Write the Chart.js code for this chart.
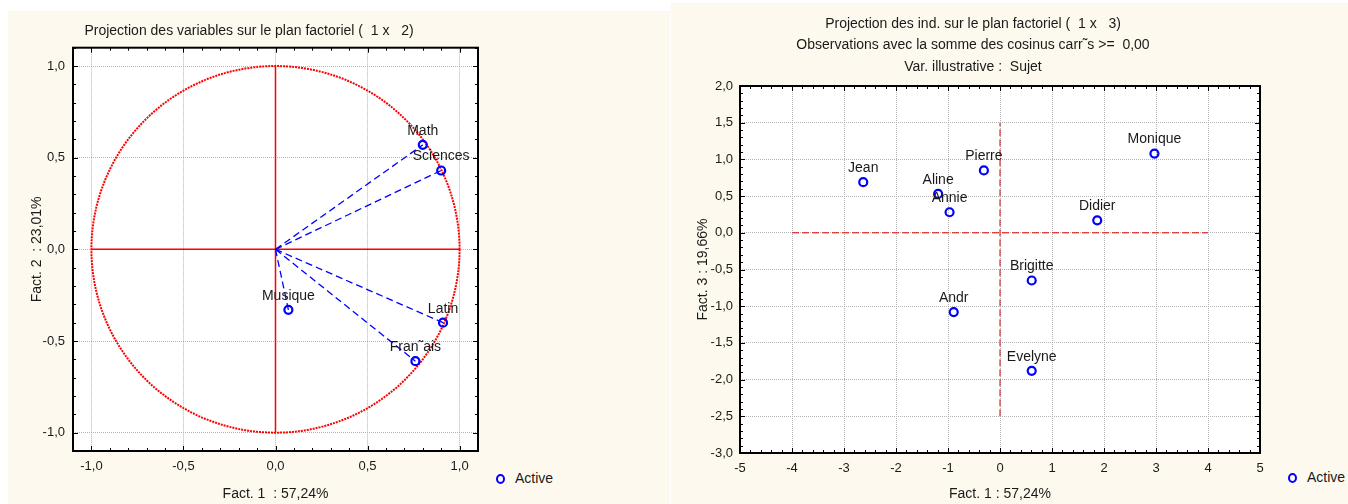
<!DOCTYPE html>
<html>
<head>
<meta charset="utf-8">
<script src="https://cdn.jsdelivr.net/npm/chart.js@4.4.1/dist/chart.umd.min.js"></script>
<style>
    body { margin: 0; width: 1348px; height: 504px; background: #fff; position: relative; overflow: hidden;
           font-family: "Liberation Sans", Arial, sans-serif; }
    .panel { position: absolute; background: #fdf9ee; }
    #p1 { left: 8px; top: 11px; width: 662px; height: 493px; }
    #p2 { left: 671px; top: 3px; width: 677px; height: 501px; }
    canvas { position: absolute; }
    #c1 { left: 8px; top: 11px; }
    #c2 { left: 670px; top: 3px; }
    .legend { position: absolute; font-size: 14px; color: #1a1a1a; line-height: 16px; }
    .legend i { position: absolute; left: 0; top: 4px; width: 5px; height: 6px; border: 2px solid #0000ff; border-radius: 50%; }
    .legend span { position: absolute; left: 19px; top: 0; white-space: nowrap; }
</style>
</head>
<body>
<div class="panel" id="p1"></div>
<div class="panel" id="p2"></div>
<canvas id="c1" width="482" height="493"></canvas>
<canvas id="c2" width="606" height="501"></canvas>
<div class="legend" style="left:496px;top:470px"><i></i><span>Active</span></div>
<div class="legend" style="left:1288px;top:469px"><i></i><span>Active</span></div>
<script>
// --- variables plot (Fact. 1 x Fact. 2)
const varNames = ["Math", "Sciences", "Musique", "Latin", "Fran˜ais"];
const varF1 = [0.80, 0.90, 0.07, 0.91, 0.76];
const varF2 = [0.57, 0.43, -0.33, -0.40, -0.61];
const varTicks = [-1.0, -0.5, 0.0, 0.5, 1.0];
const varRange = [-1.1, 1.1];
const circleRadius = 1;

// --- individuals plot (Fact. 1 x Fact. 3)
const indNames = ["Jean", "Aline", "Annie", "Pierre", "Andr", "Brigitte", "Didier", "Monique", "Evelyne"];
const indF1 = [-2.63, -1.19, -0.97, -0.31, -0.89, 0.61, 1.87, 2.97, 0.61];
const indF3 = [0.69, 0.53, 0.28, 0.85, -1.08, -0.65, 0.17, 1.08, -1.88];
const indXTicks = [-5, -4, -3, -2, -1, 0, 1, 2, 3, 4, 5];
const indYTicks = [-3.0, -2.5, -2.0, -1.5, -1.0, -0.5, 0.0, 0.5, 1.0, 1.5, 2.0];
const crossX = [-4, 4];
const crossY = [-2.5, 1.5];

Chart.defaults.font.family = '"Liberation Sans", Arial, sans-serif';
Chart.defaults.font.size = 14;
Chart.defaults.color = "#1a1a1a";

const comma = v => v.toFixed(1).replace(".", ",");

// white plot area, frame and inward ticks (major + minor)
const framePlugin = {
    id: "frame",
    beforeDraw(chart) {
        const a = chart.chartArea;
        chart.ctx.save();
        chart.ctx.fillStyle = "#fff";
        chart.ctx.fillRect(a.left, a.top, a.width, a.height);
        chart.ctx.restore();
    },
    afterDraw(chart, args, opts) {
        const { ctx, chartArea: a, scales: { x, y } } = chart;
        ctx.save();
        ctx.strokeStyle = "#000";
        ctx.lineWidth = 1;
        const seg = (x1, y1, x2, y2) => { ctx.beginPath(); ctx.moveTo(x1, y1); ctx.lineTo(x2, y2); ctx.stroke(); };
        const isMajor = (v, m) => Math.abs(v / m - Math.round(v / m)) < 1e-6;
        for (let k = Math.ceil(x.min / opts.xMinor - 1e-6); k * opts.xMinor <= x.max + 1e-6; k++) {
            const v = k * opts.xMinor, px = Math.round(x.getPixelForValue(v)) + 0.5;
            const len = isMajor(v, opts.xMajor) ? 5 : 3;
            seg(px, a.bottom, px, a.bottom - len);
            seg(px, a.top, px, a.top + len);
        }
        for (let k = Math.ceil(y.min / opts.yMinor - 1e-6); k * opts.yMinor <= y.max + 1e-6; k++) {
            const v = k * opts.yMinor, py = Math.round(y.getPixelForValue(v)) + 0.5;
            const len = isMajor(v, opts.yMajor) ? 5 : 3;
            seg(a.left, py, a.left + len, py);
            seg(a.right, py, a.right - len, py);
        }
        ctx.lineWidth = 2;
        ctx.strokeRect(a.left, a.top, a.width, a.height);
        ctx.restore();
    }
};

// names above the points
const labelPlugin = {
    id: "pointNames",
    afterDatasetsDraw(chart, args, opts) {
        const ctx = chart.ctx;
        const meta = chart.getDatasetMeta(0);
        ctx.save();
        ctx.font = '14px "Liberation Sans", Arial, sans-serif';
        ctx.fillStyle = "#1a1a1a";
        ctx.textAlign = "center";
        ctx.textBaseline = "middle";
        meta.data.forEach((pt, i) => ctx.fillText(opts.names[i], pt.x, pt.y - 14));
        ctx.restore();
    }
};

// correlation circle drawn through the scales
const circlePlugin = {
    id: "circle",
    beforeDatasetsDraw(chart) {
        const { ctx, scales: { x, y } } = chart;
        const cx = x.getPixelForValue(0), cy = y.getPixelForValue(0);
        const rx = x.getPixelForValue(circleRadius) - cx, ry = cy - y.getPixelForValue(circleRadius);
        ctx.save();
        ctx.strokeStyle = "#ff0000";
        ctx.lineWidth = 2;
        ctx.setLineDash([2, 1]);
        ctx.beginPath();
        ctx.ellipse(cx, cy, rx, ry, 0, 0, Math.PI * 2);
        ctx.stroke();
        ctx.restore();
    }
};

function axisOpts(min, max, ticks, fmt, pad, title, titlePad, size) {
    return {
        type: "linear", min: min, max: max,
        afterBuildTicks: s => { s.ticks = ticks.map(v => ({ value: v })); },
        afterFit: s => { if (s.isHorizontal()) s.height = size; else s.width = size; },
        ticks: { callback: fmt, padding: pad, maxRotation: 0, autoSkip: false, color: "#1a1a1a", font: { size: 13 } },
        grid: { color: "#b4b4b4", lineWidth: 1, drawTicks: false },
        border: { display: false, dash: [1, 1] },
        title: { display: true, text: title, color: "#1a1a1a", padding: titlePad, font: { size: 14 } }
    };
}

const varPoints = varF1.map((v, i) => ({ x: v, y: varF2[i] }));
// one dashed ray from the origin to each variable
const varRays = varPoints.map(p => ({
    type: "line", data: [{ x: 0, y: 0 }, p], borderColor: "#0000ff", borderWidth: 1.3,
    borderDash: [7, 4], pointRadius: 0, order: 1
}));

new Chart(document.getElementById("c1"), {
    type: "scatter",
    data: {
        datasets: [
            { data: varPoints, pointRadius: 4, pointBorderWidth: 2.2, borderColor: "#0000ff",
              backgroundColor: "rgba(0,0,0,0)", order: 0 },
            ...varRays,
            { type: "line", data: [{ x: -circleRadius, y: 0 }, { x: circleRadius, y: 0 }],
              borderColor: "#ff0000", borderWidth: 1.5, pointRadius: 0, order: 2 },
            { type: "line", data: [{ x: 0, y: -circleRadius }, { x: 0, y: circleRadius }],
              borderColor: "#ff0000", borderWidth: 1.5, pointRadius: 0, order: 2 }
        ]
    },
    options: {
        responsive: false, animation: false,
        layout: { padding: { left: 12, right: 12, top: 0, bottom: 0 } },
        plugins: {
            legend: { display: false }, tooltip: { enabled: false },
            title: { display: true, text: "Projection des variables sur le plan factoriel (  1 x   2)",
                     color: "#1a1a1a", font: { size: 14, weight: "normal" }, padding: { top: 11.5, bottom: 8.4 } },
            frame: { xMinor: 0.1, xMajor: 0.5, yMinor: 0.1, yMajor: 0.5 },
            pointNames: { names: varNames }
        },
        scales: {
            x: axisOpts(varRange[0], varRange[1], varTicks, v => comma(v), 8,
                        "Fact. 1  : 57,24%", { bottom: 1 }, 53),
            y: axisOpts(varRange[0], varRange[1], varTicks, v => comma(v), 8,
                        "Fact. 2  : 23,01%", { top: 8.5 }, 53)
        }
    },
    plugins: [framePlugin, labelPlugin, circlePlugin]
});

const indPoints = indF1.map((v, i) => ({ x: v, y: indF3[i] }));

new Chart(document.getElementById("c2"), {
    type: "scatter",
    data: {
        datasets: [
            { data: indPoints, pointRadius: 4, pointBorderWidth: 2.2, borderColor: "#0000ff",
              backgroundColor: "rgba(0,0,0,0)", order: 0 },
            { type: "line", data: crossX.map(v => ({ x: v, y: 0 })), borderColor: "#e00000", borderWidth: 1,
              borderDash: [7, 3], pointRadius: 0, order: 1 },
            { type: "line", data: crossY.map(v => ({ x: 0, y: v })), borderColor: "#e00000", borderWidth: 1,
              borderDash: [7, 3], pointRadius: 0, order: 1 }
        ]
    },
    options: {
        responsive: false, animation: false,
        layout: { padding: { left: 16, right: 16, top: 0, bottom: 0 } },
        plugins: {
            legend: { display: false }, tooltip: { enabled: false },
            title: { display: true,
                     text: ["Projection des ind. sur le plan factoriel (  1 x   3)",
                            "Observations avec la somme des cosinus carr˜s >=  0,00",
                            "Var. illustrative :  Sujet"],
                     color: "#1a1a1a", font: { size: 14, weight: "normal", lineHeight: 1.55 },
                     padding: { top: 10, bottom: 7.9 } },
            frame: { xMinor: 0.2, xMajor: 1, yMinor: 0.1, yMajor: 0.5 },
            pointNames: { names: indNames }
        },
        scales: {
            x: axisOpts(-5, 5, indXTicks, v => String(v), 8, "Fact. 1 : 57,24%", { bottom: 1 }, 51),
            y: axisOpts(-3, 2, indYTicks, v => comma(v), 7, "Fact. 3 : 19,66%", { top: 8.5 }, 54)
        }
    },
    plugins: [framePlugin, labelPlugin]
});
</script>
</body>
</html>
